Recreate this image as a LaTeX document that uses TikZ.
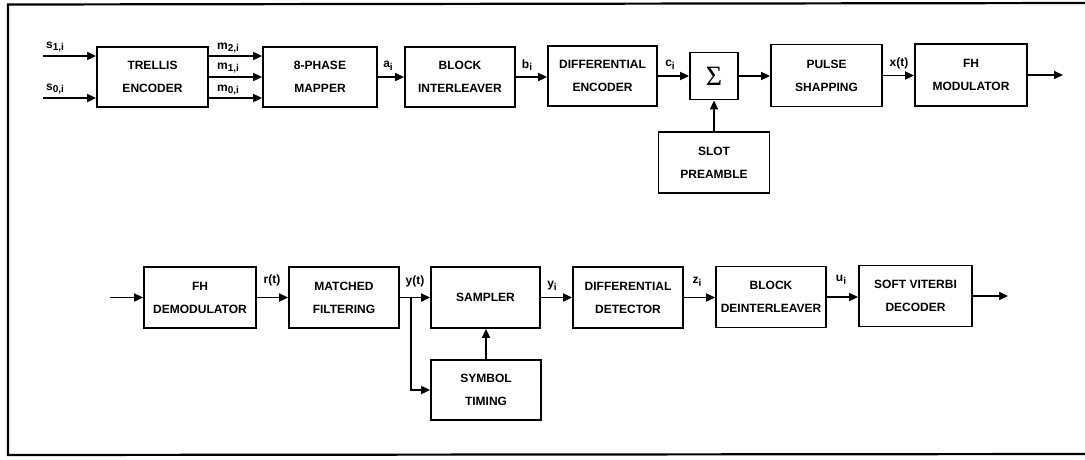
\documentclass[tikz,border=0pt]{standalone}
\usepackage{fontspec}
\setmainfont{Liberation Sans}
\newfontfamily\sigf{Liberation Serif}
\usetikzlibrary{arrows.meta,calc}
\newcommand\sbs[1]{\raisebox{-2.5pt}{\fontsize{10}{10}\selectfont #1}}
\begin{document}
\begin{tikzpicture}[x=1pt,y=-1pt,
  blk/.style={draw,line width=1.8pt,minimum width=110pt,minimum height=60pt,inner sep=0pt,align=center,font=\fontsize{12}{23}\selectfont\bfseries},
  lbl/.style={inner sep=0pt,font=\fontsize{12}{12}\selectfont\bfseries},
  arr/.style={line width=1.8pt,-{Triangle[length=9pt,width=8pt]}},
  ln/.style={line width=1.8pt}]
\useasboundingbox (0,0) rectangle (1085,459);
% frame
\draw[line width=2.2pt] (1090,3) -- (8,4.5) -- (8,455) -- (1090,454);
% top row
\node[blk,minimum width=111pt] (trellis) at (152.5,77) {TRELLIS\\ENCODER};
\node[blk,minimum width=114pt] (mapper) at (320,77) {8-PHASE\\MAPPER};
\node[blk] (blockint) at (460,77) {BLOCK\\INTERLEAVER};
\node[blk,minimum width=109pt] (diffenc) at (602.5,76) {DIFFERENTIAL\\ENCODER};
\node[blk,minimum width=48pt,minimum height=47pt] (sigma) at (714,76) {\fontsize{28}{28}\selectfont\sigf\mdseries Σ};
\node[blk,minimum width=111pt,minimum height=61pt] (slot) at (714,162.5) {SLOT\\PREAMBLE};
\node[blk,minimum width=111pt,minimum height=62pt] (pulse) at (826.5,75.5) {PULSE\\SHAPPING};
\node[blk,minimum width=112pt,minimum height=62pt] (fhmod) at (971,75) {FH\\MODULATOR};
\coordinate (s1) at (43,56);
\coordinate (s0) at (43,98);
\coordinate (out1) at (1063,75);
\node[lbl] (ls1) at (55,47) {s\sbs{1,i}};
\node[lbl] (ls0) at (55,89) {s\sbs{0,i}};
\node[lbl] (lm2) at (228,48) {m\sbs{2,i}};
\node[lbl] (lm1) at (228,68) {m\sbs{1,i}};
\node[lbl] (lm0) at (228,90) {m\sbs{0,i}};
\node[lbl] (la) at (388,66) {a\sbs{i}};
\node[lbl] (lb) at (527,65) {b\sbs{i}};
\node[lbl] (lc) at (670,65) {c\sbs{i}};
\node[lbl] (lx) at (899,63) {x(t)};
\draw[arr] (s1) -- (s1 -| trellis.west);
\draw[arr] (s0) -- (s0 -| trellis.west);
\draw[arr] ($(trellis.east)+(0,-21)$) -- ($(mapper.west)+(0,-21)$);
\draw[arr] (trellis.east) -- (mapper.west);
\draw[arr] ($(trellis.east)+(0,21)$) -- ($(mapper.west)+(0,21)$);
\draw[arr] (mapper.east) -- (blockint.west);
\draw[arr] (blockint.east) -- (blockint.east -| diffenc.west);
\draw[arr] (diffenc.east) -- (sigma.west);
\draw[arr] (slot.north) -- (sigma.south);
\draw[arr] (sigma.east) -- (sigma.east -| pulse.west);
\draw[arr] (pulse.east) -- (pulse.east -| fhmod.west);
\draw[arr] (fhmod.east) -- (out1);
% bottom row
\node[blk,minimum width=112pt,minimum height=61pt] (fhdemod) at (200,297.5) {FH\\DEMODULATOR};
\node[blk,minimum height=61pt] (matched) at (344,297.5) {MATCHED\\FILTERING};
\node[blk,minimum width=109pt,minimum height=61pt] (sampler) at (485.5,297.5) {SAMPLER};
\node[blk,minimum width=110pt,minimum height=60pt] (timing) at (486,390) {SYMBOL\\TIMING};
\node[blk,minimum height=61pt] (diffdet) at (628,297.5) {DIFFERENTIAL\\DETECTOR};
\node[blk,minimum height=61pt] (deint) at (771,297) {BLOCK\\DEINTERLEAVER};
\node[blk,minimum width=113pt,minimum height=61pt] (viterbi) at (915.5,296) {SOFT VITERBI\\DECODER};
\coordinate (in2) at (110,297.5);
\coordinate (br) at (411,297.5);
\coordinate (out2) at (1008,296);
\node[lbl] (lr) at (272,280) {r(t)};
\node[lbl] (ly) at (415,281) {y(t)};
\node[lbl] (lyi) at (552,286) {y\sbs{i}};
\node[lbl] (lz) at (697,282) {z\sbs{i}};
\node[lbl] (lu) at (841,280) {u\sbs{i}};
\draw[arr] (in2) -- (fhdemod.west);
\draw[arr] (fhdemod.east) -- (matched.west);
\draw[arr] (matched.east) -- (sampler.west);
\draw[arr] (br) |- (timing.west);
\draw[arr] (timing.north) -- (timing.north |- sampler.south);
\draw[arr] (sampler.east) -- (diffdet.west);
\draw[arr] (diffdet.east) -- (diffdet.east -| deint.west);
\draw[arr] (deint.east) -- (deint.east -| viterbi.west);
\draw[arr] (viterbi.east) -- (out2);
\end{tikzpicture}
\end{document}
